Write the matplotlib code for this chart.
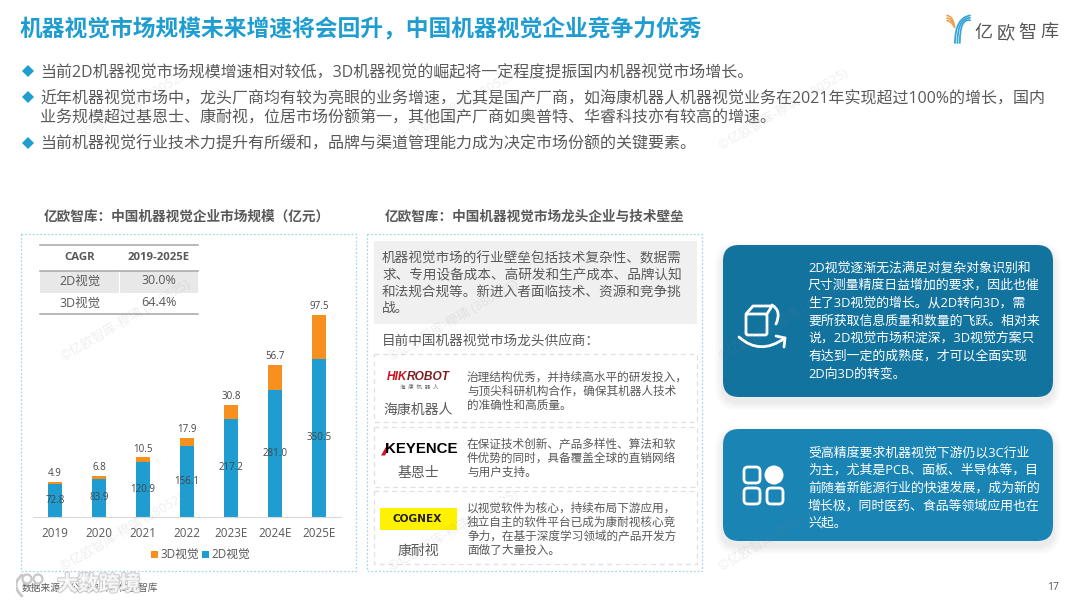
import matplotlib
matplotlib.use('agg')
import matplotlib.pyplot as plt
from matplotlib.patches import Rectangle, FancyBboxPatch, Polygon, Circle, PathPatch
from matplotlib.path import Path
import matplotlib.patheffects as pe

plt.rcParams['font.family'] = ['Open Sans', 'Noto Sans CJK SC', 'DejaVu Sans']

# chart values
years = ['2019', '2020', '2021', '2022', '2023E', '2024E', '2025E']
vision_2d = [72.8, 83.9, 120.9, 156.1, 217.2, 281.0, 350.5]
vision_3d = [4.9, 6.8, 10.5, 17.9, 30.8, 56.7, 97.5]

cagr_rows = [('2D视觉', '30.0%'), ('3D视觉', '64.4%')]

title = '机器视觉市场规模未来增速将会回升，中国机器视觉企业竞争力优秀'
bullets = [
    (72, ['当前2D机器视觉市场规模增速相对较低，3D机器视觉的崛起将一定程度提振国内机器视觉市场增长。']),
    (98, ['近年机器视觉市场中，龙头厂商均有较为亮眼的业务增速，尤其是国产厂商，如海康机器人机器视觉业务在2021年实现超过100%的增长，国内',
          '业务规模超过基恩士、康耐视，位居市场份额第一，其他国产厂商如奥普特、华睿科技亦有较高的增速。']),
    (144, ['当前机器视觉行业技术力提升有所缓和，品牌与渠道管理能力成为决定市场份额的关键要素。']),
]
barrier_lines = ['机器视觉市场的行业壁垒包括技术复杂性、数据需',
                 '求、专用设备成本、高研发和生产成本、品牌认知',
                 '和法规合规等。新进入者面临技术、资源和竞争挑',
                 '战。']
hik_lines = ['治理结构优秀，并持续高水平的研发投入，',
             '与顶尖科研机构合作，确保其机器人技术',
             '的准确性和高质量。']
key_lines = ['在保证技术创新、产品多样性、算法和软',
             '件优势的同时，具备覆盖全球的直销网络',
             '与用户支持。']
cog_lines = ['以视觉软件为核心，持续布局下游应用，',
             '独立自主的软件平台已成为康耐视核心竞',
             '争力，在基于深度学习领域的产品开发方',
             '面做了大量投入。']
card1_lines = ['2D视觉逐渐无法满足对复杂对象识别和',
               '尺寸测量精度日益增加的要求，因此也催',
               '生了3D视觉的增长。从2D转向3D，需',
               '要所获取信息质量和数量的飞跃。相对来',
               '说，2D视觉市场积淀深，3D视觉方案只',
               '有达到一定的成熟度，才可以全面实现',
               '2D向3D的转变。']
card2_lines = ['受高精度要求机器视觉下游仍以3C行业',
               '为主，尤其是PCB、面板、半导体等，目',
               '前随着新能源行业的快速发展，成为新的',
               '增长极，同时医药、食品等领域应用也在',
               '兴起。']

BLUE = '#1f9dd0'
ORANGE = '#f7901e'
GREY = '#595959'
W, H = 1080, 606


def page_axes(zorder):
    ax = fig.add_axes([0, 0, 1, 1], zorder=zorder)
    ax.set_xlim(0, W)
    ax.set_ylim(H, 0)
    ax.axis('off')
    ax.patch.set_alpha(0)
    return ax


def put_lines(ax, x, ys, lines, size, color=GREY):
    for y, line in zip(ys, lines):
        ax.text(x, y, line, fontsize=size, color=color, va='center', ha='left')


def curve(ax, pts, color, lw):
    path = Path(pts, [Path.MOVETO] + [Path.CURVE3] * (len(pts) - 1))
    ax.add_patch(PathPatch(path, fc='none', ec=color, lw=lw, capstyle='round'))


fig = plt.figure(figsize=(W / 100, H / 100), dpi=100, facecolor='white')
bg = page_axes(0)

# header
bg.text(20, 30, title, fontsize=16.4, fontweight='bold', color=BLUE, va='center')
for dx in (0, 2.4, 4.8):
    curve(bg, [(955 + dx, 43), (955 + dx, 18), (970, 15.5 + dx)], '#3aa6d6', 1.3)
for dy in (0, 2.6, 5.2):
    curve(bg, [(947, 15.5 + dy), (953 - dy / 3, 16 + dy), (954.5, 27)], '#f0a04b', 1.2)
for i, ch in enumerate('亿欧智库'):
    bg.text(983 + i * 22.3, 33, ch, fontsize=13, color='#555555', ha='center', va='center')

# bullets
for y, lines in bullets:
    bg.add_patch(Polygon([(22, y - 1), (28, y - 7), (34, y - 1), (28, y + 5)], fc=BLUE, ec='none'))
    put_lines(bg, 40, [y + 1 + i * 19 for i in range(len(lines))], lines, 11.52)

# sub titles and dotted frames
bg.text(44, 217, '亿欧智库：中国机器视觉企业市场规模（亿元）', fontsize=9.85, fontweight='bold', color=GREY, va='center')
bg.text(385, 217, '亿欧智库：中国机器视觉市场龙头企业与技术壁垒', fontsize=9.78, fontweight='bold', color=GREY, va='center')
for x0, x1 in ((20.5, 356), (366.5, 702)):
    bg.add_patch(Rectangle((x0, 234), x1 - x0, 336.5, fc='none', ec='#a8d5ea', lw=0.9, ls=(0, (1.5, 1.5))))

# CAGR table
bg.add_patch(Rectangle((40, 270.5), 158, 22, fc='#e8e8e8', ec='none'))
bg.plot([119, 119], [270.5, 292.5], color='white', lw=0.8)
for y in (245, 270.5, 314):
    bg.plot([40, 198], [y, y], color='#a6a6a6', lw=1.1)
bg.text(80, 257, 'CAGR', fontsize=8.2, fontweight='bold', color=GREY, ha='center', va='center')
bg.text(159, 257, '2019-2025E', fontsize=8.2, fontweight='bold', color=GREY, ha='center', va='center')
for y, (name, rate) in zip((281, 303), cagr_rows):
    bg.text(80, y, name, fontsize=9, color=GREY, ha='center', va='center')
    bg.text(159, y, rate, fontsize=9, color=GREY, ha='center', va='center')

# stacked bars, axes box placed on the page in pixels
left, right, top, bottom = 33, 341, 300.5, 516.5
ax = fig.add_axes([left / W, 1 - bottom / H, (right - left) / W, (bottom - top) / H], zorder=2)
ax.patch.set_alpha(0)
pos = list(range(len(years)))
bars_2d = ax.bar(pos, vision_2d, width=0.32, color=BLUE, label='2D视觉')
bars_3d = ax.bar(pos, vision_3d, width=0.32, bottom=vision_2d, color=ORANGE, label='3D视觉')
ax.set_xlim(-0.5, 6.5)
ax.set_ylim(0, 480)
ax.set_yticks([])
ax.set_xticks(pos)
ax.set_xticklabels(years, fontsize=8.4, color=GREY)
ax.tick_params(axis='x', length=0, pad=7.5)
for side in ('top', 'left', 'right'):
    ax.spines[side].set_visible(False)
ax.spines['bottom'].set_color('#d9d9d9')
for i in pos:
    ax.text(i, vision_2d[i] / 2, f'{vision_2d[i]:.1f}', fontsize=7, color='#454545', ha='center', va='center')
    ax.annotate(f'{vision_3d[i]:.1f}', (i, vision_2d[i] + vision_3d[i]), xytext=(0, 2), textcoords='offset points',
                fontsize=7, color='#454545', ha='center', va='bottom')
ax.legend(handles=[bars_3d, bars_2d], ncols=2, frameon=False, fontsize=8.5, labelcolor=GREY,
          loc='center', bbox_to_anchor=(201 / W, 1 - 555 / H), bbox_transform=fig.transFigure,
          handlelength=0.6, handleheight=0.6, handletextpad=0.2, columnspacing=0.25)

# barrier panel
bg.add_patch(Rectangle((374, 241), 323, 83, fc='#f0f0f0', ec='none'))
put_lines(bg, 382, [259, 276, 292, 308], barrier_lines, 9.8)
bg.text(382, 342, '目前中国机器视觉市场龙头供应商：', fontsize=9.8, color=GREY, va='center')
for y0, y1 in ((354, 422), (427, 487), (491, 564)):
    bg.add_patch(Rectangle((374, y0), 323, y1 - y0, fc='none', ec='#e0e0e0', lw=0.9, ls=(0, (4, 3))))
put_lines(bg, 467, [377, 391, 405], hik_lines, 8.4)
put_lines(bg, 467, [444, 458, 472], key_lines, 8.4)
put_lines(bg, 467, [508, 522, 536, 550], cog_lines, 8.4)

# supplier logos and names
bg.text(387, 377, 'HIK', fontsize=8.6, fontweight='bold', fontstyle='italic', color='#c8161d', family='Liberation Sans', va='center')
bg.text(407, 377, 'ROBOT', fontsize=8.6, fontweight='bold', fontstyle='italic', color='#7a1f22', family='Liberation Sans', va='center')
bg.text(419, 387, '海  康  机  器  人', fontsize=4, color='#666666', ha='center', va='center')
bg.text(418, 410, '海康机器人', fontsize=10, color=GREY, ha='center', va='center')
bg.add_patch(Polygon([(381, 455.5), (388.5, 442.5), (388.5, 449), (385, 455.5)], fc='#d5121e', ec='none'))
bg.text(385, 449, 'KEYENCE', fontsize=10.8, fontweight='bold', color='black', family='Liberation Sans', va='center')
bg.text(418, 474, '基恩士', fontsize=10, color=GREY, ha='center', va='center')
bg.add_patch(Rectangle((380, 508), 77, 22, fc='#fff200', ec='none'))
bg.text(417, 519.5, 'COGNEX', fontsize=7.6, fontweight='bold', color='#222222', family='DejaVu Sans', ha='center', va='center')
bg.text(418, 551, '康耐视', fontsize=10, color=GREY, ha='center', va='center')

# right cards, soft shadow first
for (y0, y1, color) in ((245, 397, '#13739f'), (429, 541, '#1a85b5')):
    for grow, alpha in ((8, 0.015), (6, 0.02), (4, 0.025), (2, 0.03)):
        bg.add_patch(FancyBboxPatch((739, y0 + 21), 298, y1 - y0 - 32, boxstyle='round,pad=%d,rounding_size=%d' % (16 + grow, 16 + grow),
                                    fc='#333333', ec='none', alpha=alpha))
    bg.add_patch(FancyBboxPatch((739, y0 + 16), 298, y1 - y0 - 32, boxstyle='round,pad=16,rounding_size=16', fc=color, ec='none'))
put_lines(bg, 808, [268, 285, 303, 321, 338, 356, 374], card1_lines, 9.3, 'white')
put_lines(bg, 808, [453, 470, 488, 506, 523], card2_lines, 9.3, 'white')

# card 1 icon
bg.add_patch(FancyBboxPatch((746, 314), 21, 21, boxstyle='round,pad=0,rounding_size=2', fc='none', ec='white', lw=2))
bg.plot([746, 753, 772, 767], [314, 306, 306, 314], color='white', lw=2, solid_capstyle='round')
curve(bg, [(772, 305), (782, 311), (776, 324)], 'white', 2)
curve(bg, [(739, 337), (760, 356), (785, 338)], 'white', 2)
bg.plot([776, 785, 784], [336, 338, 347], color='white', lw=2, solid_capstyle='round')

# card 2 icon
for x0, y0 in ((744, 467), (744, 488), (767, 488)):
    bg.add_patch(FancyBboxPatch((x0, y0), 16, 16, boxstyle='round,pad=0,rounding_size=4', fc='none', ec='white', lw=2))
bg.add_patch(Circle((774, 475), 9.5, fc='white', ec='none'))

# footer
bg.text(22, 588, '数据来源：公开资料，亿欧智库', fontsize=7, color=GREY, va='center')
bg.text(1053, 588, '17', fontsize=7.5, color=GREY, ha='center', va='center')

# watermarks above everything
top_ax = page_axes(5)
for wx in (62, 390, 720):
    for wy in (147, 358, 568):
        top_ax.text(wx, wy, '©亿欧智库-穆瑀 (380525)', fontsize=9.3, color='#808080', alpha=0.13,
                    rotation=30.5, rotation_mode='anchor', ha='left', va='center')
outline = [pe.withStroke(linewidth=1.8, foreground='#c8c8c8')]
top_ax.text(57, 585, '大数跨境', fontsize=15, fontweight='bold', color='white', alpha=0.8, va='center', path_effects=outline)
top_ax.plot([14, 14], [575, 595], color='white', lw=3, path_effects=outline, solid_capstyle='round')
curve(top_ax, [(22, 575), (10, 585), (22, 596)], '#c8c8c8', 2)
for cx in (27, 38):
    top_ax.add_patch(Circle((cx, 579), 4.5, fc='none', ec='#c8c8c8', lw=1.6))

fig.savefig('out.png', dpi=100)
